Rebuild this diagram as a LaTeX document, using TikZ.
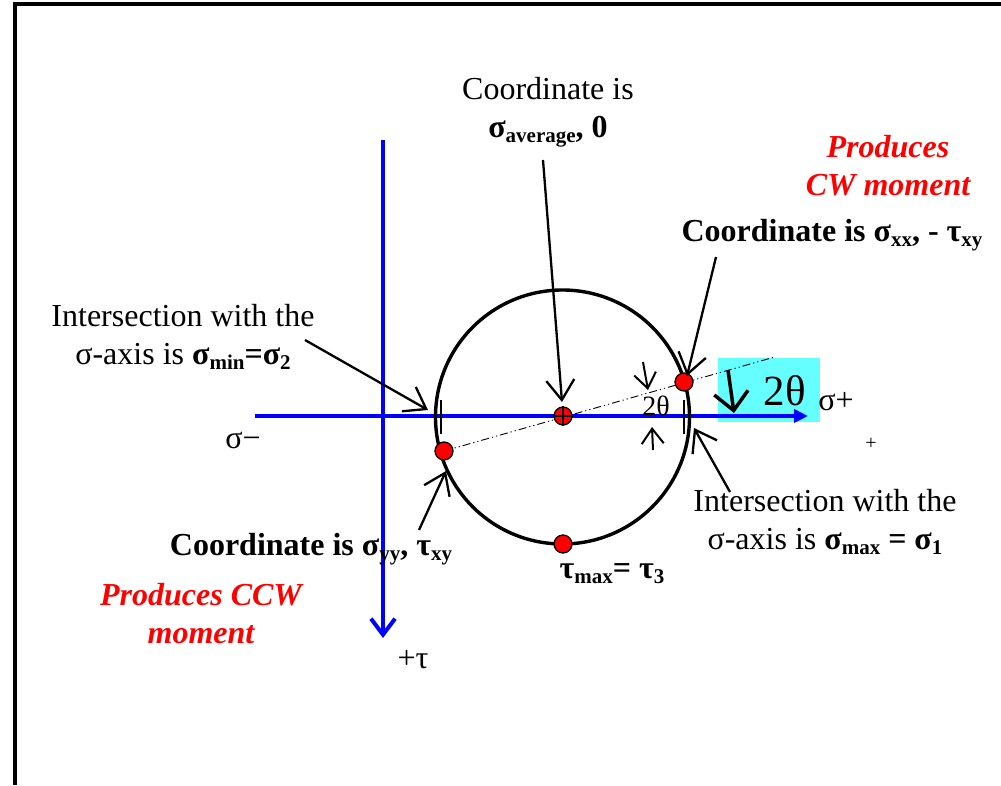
\documentclass[tikz,border=0pt]{standalone}
\usepackage{fontspec}
\setmainfont{Liberation Serif}
\usetikzlibrary{arrows.meta}
\definecolor{boxcyan}{RGB}{102,255,255}
\newcommand\subs[1]{\raisebox{-0.35ex}{\fontsize{21}{21}\selectfont #1}}
\begin{document}
\begin{tikzpicture}[x=1pt,y=-1pt,
  lbl/.style={font=\fontsize{32}{38}\selectfont, align=center, inner sep=0pt},
  redlbl/.style={lbl, text=red, font=\fontsize{32}{38}\selectfont\bfseries\itshape},
  axis/.style={blue, line width=4pt},
  note/.style={black, line width=2.3pt, -{Straight Barb[length=20pt,width=28pt,line width=2.3pt]}},
  dot/.style={circle, draw=black, fill=red, line width=1.3pt, minimum size=18pt, inner sep=0pt},
  tick/.style={black, line width=1.8pt}]
\useasboundingbox (0,0) rectangle (1001,785);
% frame
\draw[line width=4pt] (12.7,4) -- (1001,4);
\draw[line width=4pt] (14.7,2) -- (14.7,785);
% cyan box
\fill[boxcyan] (718,358) rectangle (820,422);
% axes
\coordinate (hs) at (255,416);
\coordinate (he) at (808,416);
\coordinate (vs) at (383,140);
\coordinate (ve) at (383,638);
\draw[axis, -{Triangle[length=14pt,width=13pt]}] (hs) -- (he);
\draw[axis, -{Straight Barb[length=16pt,width=24pt,line width=4pt]}] (vs) -- (ve);
% circle
\draw[line width=3.4pt] (562.5,417) circle[radius=127pt];
% dash-dot line
\coordinate (dl) at (444,451);
\coordinate (dr) at (773,357.5);
\draw[line width=0.9pt, dash pattern=on 8pt off 3pt on 1.2pt off 3pt on 1.2pt off 3pt] (dl) -- (dr);
% double tick marks
\draw[tick] (441,400) -- (441,434);
\draw[tick] (684,400) -- (684,434);
% dots
\node[dot] (c) at (563,416) {};
\draw[line width=1.3pt] (c.north) -- (c.south) (c.west) -- (c.east);
\node[dot] (p1) at (684,382) {};
\node[dot] (p2) at (444,451) {};
\node[dot] (p3) at (563,544) {};
% small 2theta arrows
\coordinate (a1s) at (643,362);
\coordinate (a1e) at (648,390);
\coordinate (a2s) at (653,450);
\coordinate (a2e) at (652,427);
\draw[line width=2pt, -{Straight Barb[length=15pt,width=22pt,line width=2pt]}] (a1s) -- (a1e);
\draw[line width=2pt, -{Straight Barb[length=15pt,width=22pt,line width=2pt]}] (a2s) -- (a2e);
\node[lbl, font=\fontsize{28}{30}\selectfont] (sm2t) at (656,406) {2θ};
% big arrow in box
\coordinate (b1s) at (728,370);
\coordinate (b1e) at (734,413);
\draw[line width=3.5pt, -{Straight Barb[length=18pt,width=34pt,line width=3.5pt]}] (b1s) -- (b1e);
\node[lbl, font=\fontsize{43}{45}\selectfont] (big2t) at (785,391) {2θ};
\node[lbl] (sp) at (836,402) {σ+};
\node[lbl] (sm) at (243,440) {σ−};
\node[lbl, font=\fontsize{20}{20}\selectfont] (pl) at (871,444) {+};
\node[lbl] (tau) at (413,660) {+τ};
% labels
\node[lbl] (avg) at (548,112) {Coordinate is\\\textbf{σ\subs{average}, 0}};
\node[redlbl] (cw) at (888,166) {Produces\\CW moment};
\node[lbl, font=\fontsize{32}{38}\selectfont\bfseries] (xx) at (832,235) {Coordinate is σ\subs{xx}, - τ\subs{xy}};
\node[lbl] (minl) at (183,337) {Intersection with the\\σ-axis is \textbf{σ\subs{min}=σ\subs{2}}};
\node[lbl, font=\fontsize{32}{38}\selectfont\bfseries] (yy) at (311,549) {Coordinate is σ\subs{yy}, τ\subs{xy}};
\node[redlbl] (ccw) at (201,614) {Produces CCW\\moment};
\node[lbl, font=\fontsize{32}{38}\selectfont\bfseries] (tmax) at (612,574) {τ\subs{max}= τ\subs{3}};
\node[lbl] (maxl) at (825,522) {Intersection with the\\σ-axis is \textbf{σ\subs{max} = σ\subs{1}}};
% annotation arrows
\coordinate (n1s) at (543,160);
\coordinate (n1e) at (562,402);
\draw[note] (n1s) -- (n1e);
\coordinate (n2s) at (716,257);
\coordinate (n2e) at (687,376);
\draw[note] (n2s) -- (n2e);
\coordinate (n3s) at (305,340);
\coordinate (n3e) at (428,410);
\draw[note] (n3s) -- (n3e);
\coordinate (n4s) at (419,530);
\coordinate (n4e) at (446,471);
\draw[note] (n4s) -- (n4e);
\coordinate (n5s) at (730,492);
\coordinate (n5e) at (694,428);
\draw[note] (n5s) -- (n5e);
\end{tikzpicture}
\end{document}
